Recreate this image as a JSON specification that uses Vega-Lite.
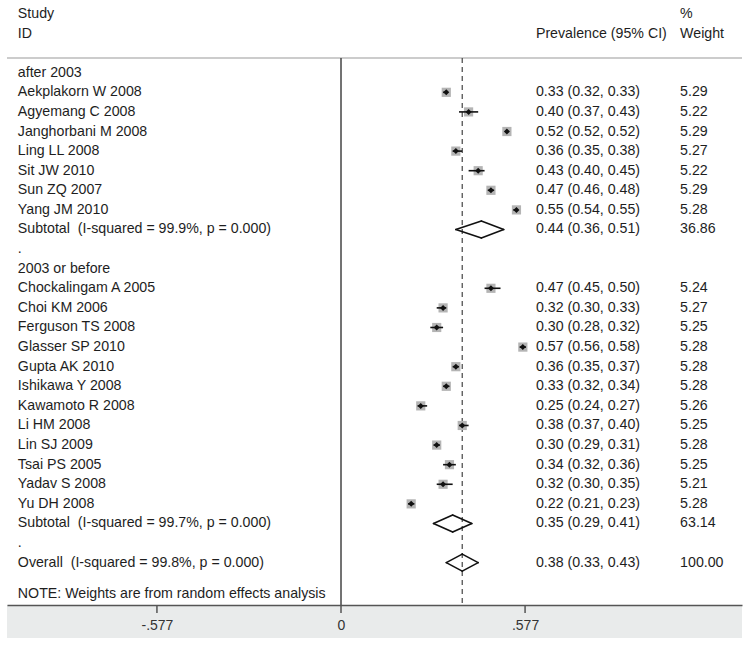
{
  "$schema": "https://vega.github.io/schema/vega-lite/v6.json",
  "width": 735,
  "height": 605,
  "autosize": {"type": "none"},
  "padding": {"left": 7, "top": 0, "right": 10, "bottom": 46},
  "background": "white",
  "config": {
    "view": {"stroke": null},
    "font": "Liberation Sans",
    "text": {"font": "Liberation Sans", "fontSize": 14.2, "color": "#1e1e1e", "baseline": "middle", "align": "left"}
  },
  "datasets": {
    "rows": [
      {"row": -3, "label": "Study", "ci": "", "wt": "%", "type": "header"},
      {"row": -2, "label": "ID", "ci": "Prevalence (95% CI)", "wt": "Weight", "type": "header"},
      {"row": 0, "label": "after 2003", "ci": "", "wt": "", "type": "heading"},
      {"row": 1, "label": "Aekplakorn W 2008", "est": 0.33, "lci": 0.32, "uci": 0.33, "weight": 5.29, "ci": "0.33 (0.32, 0.33)", "wt": "5.29", "type": "study"},
      {"row": 2, "label": "Agyemang C 2008", "est": 0.40, "lci": 0.37, "uci": 0.43, "weight": 5.22, "ci": "0.40 (0.37, 0.43)", "wt": "5.22", "type": "study"},
      {"row": 3, "label": "Janghorbani M 2008", "est": 0.52, "lci": 0.515, "uci": 0.525, "weight": 5.29, "ci": "0.52 (0.52, 0.52)", "wt": "5.29", "type": "study"},
      {"row": 4, "label": "Ling LL 2008", "est": 0.36, "lci": 0.35, "uci": 0.38, "weight": 5.27, "ci": "0.36 (0.35, 0.38)", "wt": "5.27", "type": "study"},
      {"row": 5, "label": "Sit JW 2010", "est": 0.43, "lci": 0.40, "uci": 0.45, "weight": 5.22, "ci": "0.43 (0.40, 0.45)", "wt": "5.22", "type": "study"},
      {"row": 6, "label": "Sun ZQ 2007", "est": 0.47, "lci": 0.46, "uci": 0.48, "weight": 5.29, "ci": "0.47 (0.46, 0.48)", "wt": "5.29", "type": "study"},
      {"row": 7, "label": "Yang JM 2010", "est": 0.55, "lci": 0.54, "uci": 0.55, "weight": 5.28, "ci": "0.55 (0.54, 0.55)", "wt": "5.28", "type": "study"},
      {"row": 8, "label": "Subtotal\u00a0 (I-squared = 99.9%, p = 0.000)", "est": 0.44, "lci": 0.36, "uci": 0.51, "weight": 36.86, "ci": "0.44 (0.36, 0.51)", "wt": "36.86", "type": "subtotal"},
      {"row": 9, "label": ".", "ci": "", "wt": "", "type": "heading"},
      {"row": 10, "label": "2003 or before", "ci": "", "wt": "", "type": "heading"},
      {"row": 11, "label": "Chockalingam A 2005", "est": 0.47, "lci": 0.45, "uci": 0.50, "weight": 5.24, "ci": "0.47 (0.45, 0.50)", "wt": "5.24", "type": "study"},
      {"row": 12, "label": "Choi KM 2006", "est": 0.32, "lci": 0.30, "uci": 0.33, "weight": 5.27, "ci": "0.32 (0.30, 0.33)", "wt": "5.27", "type": "study"},
      {"row": 13, "label": "Ferguson TS 2008", "est": 0.30, "lci": 0.28, "uci": 0.32, "weight": 5.25, "ci": "0.30 (0.28, 0.32)", "wt": "5.25", "type": "study"},
      {"row": 14, "label": "Glasser SP 2010", "est": 0.57, "lci": 0.56, "uci": 0.58, "weight": 5.28, "ci": "0.57 (0.56, 0.58)", "wt": "5.28", "type": "study"},
      {"row": 15, "label": "Gupta AK 2010", "est": 0.36, "lci": 0.35, "uci": 0.37, "weight": 5.28, "ci": "0.36 (0.35, 0.37)", "wt": "5.28", "type": "study"},
      {"row": 16, "label": "Ishikawa Y 2008", "est": 0.33, "lci": 0.32, "uci": 0.34, "weight": 5.28, "ci": "0.33 (0.32, 0.34)", "wt": "5.28", "type": "study"},
      {"row": 17, "label": "Kawamoto R 2008", "est": 0.25, "lci": 0.24, "uci": 0.27, "weight": 5.26, "ci": "0.25 (0.24, 0.27)", "wt": "5.26", "type": "study"},
      {"row": 18, "label": "Li HM 2008", "est": 0.38, "lci": 0.37, "uci": 0.40, "weight": 5.25, "ci": "0.38 (0.37, 0.40)", "wt": "5.25", "type": "study"},
      {"row": 19, "label": "Lin SJ 2009", "est": 0.30, "lci": 0.29, "uci": 0.31, "weight": 5.28, "ci": "0.30 (0.29, 0.31)", "wt": "5.28", "type": "study"},
      {"row": 20, "label": "Tsai PS 2005", "est": 0.34, "lci": 0.32, "uci": 0.36, "weight": 5.25, "ci": "0.34 (0.32, 0.36)", "wt": "5.25", "type": "study"},
      {"row": 21, "label": "Yadav S 2008", "est": 0.32, "lci": 0.30, "uci": 0.35, "weight": 5.21, "ci": "0.32 (0.30, 0.35)", "wt": "5.21", "type": "study"},
      {"row": 22, "label": "Yu DH 2008", "est": 0.22, "lci": 0.21, "uci": 0.23, "weight": 5.28, "ci": "0.22 (0.21, 0.23)", "wt": "5.28", "type": "study"},
      {"row": 23, "label": "Subtotal\u00a0 (I-squared = 99.7%, p = 0.000)", "est": 0.35, "lci": 0.29, "uci": 0.41, "weight": 63.14, "ci": "0.35 (0.29, 0.41)", "wt": "63.14", "type": "subtotal"},
      {"row": 24, "label": ".", "ci": "", "wt": "", "type": "heading"},
      {"row": 25, "label": "Overall\u00a0 (I-squared = 99.8%, p = 0.000)", "est": 0.38, "lci": 0.33, "uci": 0.43, "weight": 100.0, "ci": "0.38 (0.33, 0.43)", "wt": "100.00", "type": "overall"},
      {"row": 26.6, "label": "NOTE: Weights are from random effects analysis", "ci": "", "wt": "", "type": "note"}
    ],
    "ticks": [{"t": -0.577}, {"t": 0}, {"t": 0.577}]
  },
  "data": {"name": "rows"},
  "layer": [
    {
      "mark": {"type": "rect", "color": "#e9ebeb"},
      "data": {"values": [{}]},
      "encoding": {
        "x": {"datum": -1.047, "type": "quantitative"},
        "x2": {"datum": 1.257},
        "y": {"datum": 27.16, "type": "quantitative"},
        "y2": {"datum": 28.84}
      }
    },
    {
      "mark": {"type": "rule", "color": "#555", "strokeWidth": 1.5, "y2Offset": 8},
      "data": {"name": "ticks"},
      "encoding": {
        "x": {"field": "t", "type": "quantitative"},
        "y": {"datum": 27.16, "type": "quantitative"},
        "y2": {"datum": 27.16}
      }
    },
    {
      "mark": {"type": "rule", "color": "#9a9a9a", "strokeWidth": 1.2},
      "data": {"values": [{}]},
      "encoding": {
        "x": {"datum": -1.047, "type": "quantitative"},
        "x2": {"datum": 1.257},
        "y": {"datum": -0.75, "type": "quantitative"}
      }
    },
    {
      "mark": {"type": "rule", "color": "#444", "strokeWidth": 1.5},
      "data": {"values": [{}]},
      "encoding": {
        "x": {"datum": 0, "type": "quantitative"},
        "y": {"datum": -0.75, "type": "quantitative"},
        "y2": {"datum": 27.16}
      }
    },
    {
      "mark": {"type": "rule", "color": "#444", "strokeWidth": 1.2, "strokeDash": [5, 4]},
      "transform": [{"filter": "datum.type === 'overall'"}],
      "encoding": {
        "x": {"field": "est", "type": "quantitative"},
        "y": {"datum": -0.75, "type": "quantitative"},
        "y2": {"datum": 27.16}
      }
    },
    {
      "mark": {"type": "square", "filled": true, "color": "#b4b4b4", "opacity": 1},
      "transform": [{"filter": "datum.type === 'study'"}],
      "encoding": {
        "x": {"field": "est", "type": "quantitative"},
        "y": {"field": "row", "type": "quantitative"},
        "size": {"field": "weight", "type": "quantitative", "scale": {"domain": [0, 5.3], "range": [0, 85]}, "legend": null}
      }
    },
    {
      "mark": {"type": "rule", "color": "#111", "strokeWidth": 1.6},
      "transform": [{"filter": "datum.type === 'study'"}],
      "encoding": {
        "x": {"field": "lci", "type": "quantitative"},
        "x2": {"field": "uci"},
        "y": {"field": "row", "type": "quantitative"}
      }
    },
    {
      "mark": {"type": "point", "shape": "diamond", "filled": true, "color": "#111", "size": 36, "opacity": 1},
      "transform": [{"filter": "datum.type === 'study'"}],
      "encoding": {
        "x": {"field": "est", "type": "quantitative"},
        "y": {"field": "row", "type": "quantitative"}
      }
    },
    {
      "mark": {"type": "rule", "color": "#111", "strokeWidth": 1.6, "strokeCap": "round", "y2Offset": -8.5},
      "transform": [{"filter": "datum.type === 'subtotal' || datum.type === 'overall'"}],
      "encoding": {
        "x": {"field": "lci", "type": "quantitative"},
        "x2": {"field": "est"},
        "y": {"field": "row", "type": "quantitative"},
        "y2": {"field": "row"}
      }
    },
    {
      "mark": {"type": "rule", "color": "#111", "strokeWidth": 1.6, "strokeCap": "round", "y2Offset": 8.5},
      "transform": [{"filter": "datum.type === 'subtotal' || datum.type === 'overall'"}],
      "encoding": {
        "x": {"field": "lci", "type": "quantitative"},
        "x2": {"field": "est"},
        "y": {"field": "row", "type": "quantitative"},
        "y2": {"field": "row"}
      }
    },
    {
      "mark": {"type": "rule", "color": "#111", "strokeWidth": 1.6, "strokeCap": "round", "y2Offset": -8.5},
      "transform": [{"filter": "datum.type === 'subtotal' || datum.type === 'overall'"}],
      "encoding": {
        "x": {"field": "uci", "type": "quantitative"},
        "x2": {"field": "est"},
        "y": {"field": "row", "type": "quantitative"},
        "y2": {"field": "row"}
      }
    },
    {
      "mark": {"type": "rule", "color": "#111", "strokeWidth": 1.6, "strokeCap": "round", "y2Offset": 8.5},
      "transform": [{"filter": "datum.type === 'subtotal' || datum.type === 'overall'"}],
      "encoding": {
        "x": {"field": "uci", "type": "quantitative"},
        "x2": {"field": "est"},
        "y": {"field": "row", "type": "quantitative"},
        "y2": {"field": "row"}
      }
    },
    {
      "mark": {"type": "text"},
      "encoding": {
        "x": {"datum": -1.013, "type": "quantitative"},
        "y": {"field": "row", "type": "quantitative"},
        "text": {"field": "label"}
      }
    },
    {
      "mark": {"type": "text"},
      "encoding": {
        "x": {"datum": 0.611, "type": "quantitative"},
        "y": {"field": "row", "type": "quantitative"},
        "text": {"field": "ci"}
      }
    },
    {
      "mark": {"type": "text"},
      "encoding": {
        "x": {"datum": 1.063, "type": "quantitative"},
        "y": {"field": "row", "type": "quantitative"},
        "text": {"field": "wt"}
      }
    }
  ],
  "encoding": {
    "x": {
      "type": "quantitative",
      "scale": {"domain": [-1.047, 1.257], "nice": false, "zero": false},
      "axis": {
        "orient": "bottom",
        "values": [-0.577, 0, 0.577],
        "labelExpr": "datum.value === 0 ? '0' : (datum.value < 0 ? '-.577' : '.577')",
        "title": null,
        "grid": false,
        "domainColor": "#555",
        "domainWidth": 1.6,
        "ticks": false,
        "labelFontSize": 14,
        "labelColor": "#333",
        "labelFont": "Liberation Sans",
        "labelPadding": 13,
        "zindex": 1
      }
    },
    "y": {
      "type": "quantitative",
      "scale": {"domain": [-3.71, 27.16], "nice": false, "zero": false, "reverse": true},
      "axis": null
    }
  }
}
